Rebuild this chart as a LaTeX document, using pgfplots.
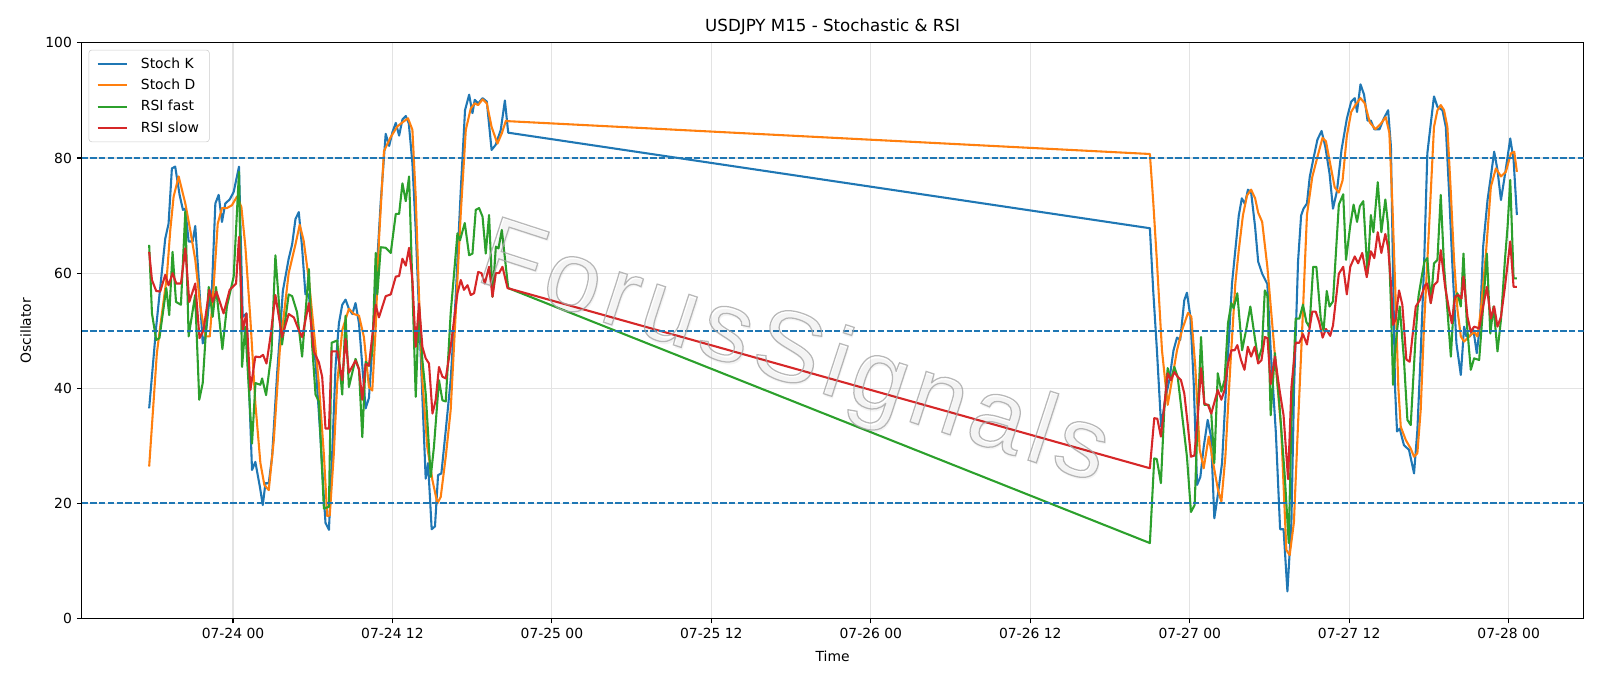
\documentclass[border=0pt]{standalone}
\usepackage{fontspec}
\setmainfont{DejaVu Sans}
\newfontfamily\wmfont[LetterSpace=6.5]{Liberation Sans}
\usepackage{pgfplots}
\pgfplotsset{compat=1.18}
\definecolor{c0}{HTML}{1F77B4}
\definecolor{c1}{HTML}{FF7F0E}
\definecolor{c2}{HTML}{2CA02C}
\definecolor{c3}{HTML}{D62728}
\newcommand{\outlinetext}[1]{\special{pdf:code 1 Tr 0.9 w}#1\special{pdf:code 0 Tr}}
\begin{document}
\begin{tikzpicture}
\begin{axis}[
  scale only axis, width=1081.4pt, height=414.4pt,
  xmin=-11.39, xmax=101.64, ymin=0, ymax=100,
  xtick={0,12,24,36,48,60,72,84,96},
  xticklabels={07-24 00,07-24 12,07-25 00,07-25 12,07-26 00,07-26 12,07-27 00,07-27 12,07-28 00},
  ytick={0,20,40,60,80,100},
  /pgf/number format/assume math mode=true,
  ticklabel style={font=\fontsize{10}{12}\selectfont},
  label style={font=\fontsize{10}{12}\selectfont},
  title style={font=\fontsize{12}{14}\selectfont, yshift=-3.5pt},
  title={USDJPY M15 - Stochastic \& RSI},
  xlabel={Time}, ylabel={Oscillator},
  xlabel shift=2pt, ylabel shift=3.5pt,
  grid=major, major grid style={color=black!11, line width=0.8pt},
  tick align=outside, tick pos=left, major tick length=3.5pt,
  every tick/.style={black, line width=0.8pt},
  axis line style={line width=0.8pt},
  legend cell align=left,
  legend style={font=\fontsize{10}{12}\selectfont, draw=black!20, rounded corners=2pt,
    at={(axis description cs:0,1)}, anchor=north west, xshift=5pt, yshift=-5pt,
    fill=white, fill opacity=0.8, text opacity=1, inner xsep=5.5pt, inner ysep=3.5pt,
    row sep=2.2pt, /tikz/every odd column/.append style={column sep=7.5pt}},
  legend image code/.code={\draw[#1] (0pt,0pt) -- (21pt,0pt);},
  every axis plot/.append style={line width=1.5pt, line join=round},
]
\addplot[c0] coordinates {
(-6.31,36.5) (-5.78,50.7) (-5.10,66) (-4.85,68.6) (-4.60,78.2) (-4.35,78.5) (-4.02,73.6) (-3.77,71) (-3.59,71.2) (-3.34,65.5) (-3.04,65.5) (-2.84,68.2) (-2.54,57.6) (-2.28,47.8) (-2.04,49.5) (-1.83,54.2) (-1.58,57.6) (-1.33,72.1) (-1.08,73.6) (-0.83,68.9) (-0.58,72.1) (-0.25,72.8) (0.05,74.1) (0.45,78.5) (0.73,52.4) (1.01,53) (1.43,25.8) (1.68,27.2) (2.02,22.9) (2.24,19.7) (2.44,23.5) (2.69,23.5) (2.94,28.1) (3.32,42.6) (3.57,50.7) (3.75,56.9)
(4.19,62.5) (4.45,65) (4.70,69.4) (4.95,70.6) (5.20,64.4) (5.45,56.3) (5.71,56.3) (5.95,50.1) (6.21,44.5) (6.58,31.5) (6.84,20.9) (6.96,16.6) (7.22,15.4) (7.46,28.4) (7.72,43.9) (7.97,51.3) (8.22,54.5) (8.47,55.4) (8.72,53.8) (8.98,52.9) (9.22,54.8) (9.48,51.3) (9.73,43.9) (9.98,36.5) (10.23,38.3) (10.48,47) (10.74,57.6) (11.12,72.5) (11.49,84.2) (11.75,82.1) (12.0,84.5) (12.25,86.1) (12.50,83.9) (12.75,86.7) (13.0,87.3) (13.23,86) (13.5,79.1) (13.75,67.5) (14.0,53) (14.25,38.5) (14.5,24.3) (14.68,27) (14.95,15.5) (15.2,16) (15.43,24.9) (15.68,25.2) (16.01,32.7) (16.38,41.4) (16.76,55.9) (17.14,74.4) (17.46,88.3) (17.77,91) (18.02,87.8) (18.19,90.1) (18.45,89.5) (18.78,90.4) (19.1,89.8) (19.46,81.4) (19.77,82.3) (20.15,84.9) (20.46,90) (20.71,84.4)
(69.0,67.8) (69.25,57) (69.53,46.6) (69.85,33.3) (70.15,38) (70.46,41.4) (70.78,46.6) (71.04,48.8) (71.28,48.4) (71.59,55.3) (71.79,56.6) (72.05,52.4) (72.3,40.8) (72.55,23.2) (72.8,24.6) (73.05,29.8) (73.35,34.5) (73.6,31.6) (73.85,17.4) (74.13,21.7) (74.43,27) (74.68,38) (74.93,47.8) (75.18,58.2) (75.43,64) (75.69,70) (75.92,73) (76.15,72) (76.38,74.5) (76.62,74) (76.92,68) (77.15,62) (77.45,59.9) (77.84,58.1) (78.09,46.7) (78.48,32.3) (78.8,15.5) (79.06,15.5) (79.35,4.7) (79.65,16.7) (79.85,40) (80.15,62) (80.38,70) (80.56,71.2) (80.82,72.1) (81.03,76.7) (81.29,79.7) (81.61,83.2) (81.92,84.7) (82.2,82) (82.52,77.3) (82.78,71.2) (83.08,74.3) (83.42,81.4) (83.82,86.8) (84.15,89.8) (84.42,90.4) (84.59,88) (84.85,92.8) (85.12,91) (85.38,86.5) (85.63,86.5) (85.89,85) (86.28,85) (86.59,86.8) (86.93,88.3) (87.14,82) (87.3,60) (87.45,40) (87.6,32.5) (87.8,33) (88.12,30.1) (88.5,29.3) (88.88,25.2) (89.13,32.7) (89.38,46.1) (89.63,61.1) (89.88,80.8) (90.14,86) (90.38,90.7) (90.64,88.9) (91.02,88.3) (91.27,85.4) (91.52,73.9) (91.77,61.1) (92.07,47.8) (92.4,42.3) (92.65,50.7) (92.82,49) (93.08,49) (93.35,50.1) (93.6,46.1) (93.83,50.7) (94.08,64.6) (94.41,72.7) (94.66,76.8) (94.91,81.1) (95.16,77.9) (95.42,72.7) (95.66,76.2) (95.92,80.2) (96.12,83.4) (96.37,79.7) (96.62,70.1)
};
\addlegendentry{Stoch K}
\addplot[c1] coordinates {
(-6.31,26.4) (-5.73,46.1) (-5.48,50.7) (-4.98,59.4) (-4.72,67.5) (-4.47,73.3) (-4.09,76.8) (-3.59,72.1) (-3.22,67.5) (-2.84,62.3) (-2.46,54.2) (-2.08,49) (-1.75,49) (-1.46,57.6) (-1.15,68.6) (-0.83,71.3) (-0.46,71.3) (-0.08,71.8) (0.30,73.3) (0.63,71.5) (0.93,64.6) (1.31,51.9) (1.68,37.4) (2.06,27) (2.36,23.2) (2.69,22.3) (3.07,31) (3.52,46.6)
(4.19,60) (4.70,65) (5.02,68.4) (5.32,65.6) (5.71,58.8) (6.08,50.1) (6.46,40.8) (6.84,28.4) (7.09,17.8) (7.28,17.9) (7.58,28.4) (7.84,40.8) (8.22,50.1) (8.72,53.8) (9.10,52.9) (9.48,52.6) (9.85,48.9) (10.23,40.2) (10.48,39.6) (10.73,50.1) (10.98,65.6) (11.36,81.2) (11.86,83.6) (12.37,85.5) (12.87,86.4) (13.17,86.9) (13.5,84.9) (13.75,73.3) (14.0,55.9) (14.25,41.4) (14.62,29.8) (15.01,24) (15.38,20) (15.63,21.1) (16.01,28.1) (16.38,36.2) (16.76,53) (17.14,70.4) (17.52,84.9) (17.89,88.6) (18.19,89.5) (18.45,89.2) (18.78,90.2) (19.1,89.5) (19.46,85.4) (19.9,82.5) (20.23,84.3) (20.54,86.5) (20.71,86.4)
(69.0,80.7) (69.25,72.5) (69.53,62) (69.91,46.6) (70.34,37.1) (70.66,41.4) (71.04,46.6) (71.42,50.1) (71.87,53.1) (72.12,52.4) (72.42,43.7) (72.75,29.3) (73.05,26.1) (73.43,31.6) (73.81,26.4) (74.13,22.3) (74.38,20.3) (74.68,28.1) (75.05,43.7) (75.43,58.2) (75.69,64) (76.0,70) (76.31,73.5) (76.62,74.5) (76.92,73) (77.15,70.5) (77.45,68.9) (77.84,61.1) (78.35,47.3) (78.88,32.9) (79.27,11.9) (79.52,11) (79.84,16.7) (80.1,31.1) (80.44,49.1) (80.82,70.1) (81.22,76.7) (81.61,80.2) (81.99,83.5) (82.25,82.9) (82.52,79.6) (82.91,74.9) (83.22,74) (83.5,76.1) (83.82,83.8) (84.15,88) (84.46,89.2) (84.85,90.4) (85.17,89.5) (85.55,86.2) (85.97,85) (86.36,85.9) (86.75,87.1) (87.02,84.4) (87.25,72) (87.5,55) (87.7,40) (87.88,33.3) (88.26,31) (88.63,29.5) (88.88,28.1) (89.13,28.7) (89.38,36.2) (89.63,50.7) (90.01,68) (90.38,85.4) (90.64,88.3) (90.89,89.2) (91.14,88.3) (91.39,85.4) (91.65,73.9) (91.89,62.3) (92.15,53.6) (92.4,49) (92.65,48.1) (93.03,49) (93.4,49.8) (93.65,49) (93.91,53.6) (94.29,63.4) (94.66,75) (95.04,78.2) (95.42,76.8) (95.79,77.6) (96.17,80.8) (96.42,81.1) (96.62,77.6)
};
\addlegendentry{Stoch D}
\addplot[c2] coordinates {
(-6.31,64.9) (-6.1,53) (-5.78,48.4) (-5.54,48.7) (-5.02,57.4) (-4.8,52.7) (-4.55,63.7) (-4.29,55) (-3.92,54.5) (-3.59,70.7) (-3.34,49) (-2.85,56.2) (-2.54,38) (-2.28,40.9) (-1.83,57.6) (-1.53,52.4) (-1.28,57.6) (-0.8,46.8) (-0.46,54.2) (0.05,59.4) (0.45,77.6) (0.68,43.7) (0.92,50.7) (1.43,30.4) (1.69,40.9) (2.06,40.6) (2.19,41.7) (2.49,38.8) (2.89,46.1) (3.19,63.1) (3.69,47.6) (4.19,56.3) (4.45,56) (4.82,53.2) (5.2,45.5) (5.71,60.7) (5.95,47.6) (6.21,38.9) (6.46,37.7) (6.84,19.1) (7.22,19.4) (7.42,47.9) (7.84,48.3) (8.22,38.9) (8.47,52.6) (8.72,40.2) (9.22,45.1) (9.48,43.3) (9.73,31.5) (9.98,44.6) (10.23,43.9) (10.48,46.4) (10.74,63.5) (10.86,56.3) (11.12,64.5) (11.49,64.4) (11.87,63.5) (12.25,70.3) (12.5,70.3) (12.75,75.6) (13.0,72.5) (13.25,76.8) (13.75,38.5) (14.0,54.2) (14.25,44.9) (14.5,39.1) (14.88,24.6) (15.12,29.8) (15.5,41.4) (15.76,37.9) (16.01,37.7) (16.38,53) (16.89,66.9) (17.08,65.7) (17.44,68.7) (17.77,63.1) (18.02,63.4) (18.27,71) (18.52,71.3) (18.78,69.8) (19.02,63.4) (19.27,70.1) (19.53,55.9) (19.78,64.6) (19.98,64.3) (20.23,67.5) (20.71,57.4)
(69.0,13.1) (69.33,27.8) (69.52,27.7) (69.83,23.5) (70.08,36.2) (70.34,43.5) (70.58,41.4) (70.84,43.7) (71.09,42) (71.79,28.1) (72.09,18.5) (72.37,19.7) (72.6,35) (72.85,48.9) (73.1,37.1) (73.43,37.1) (73.62,35.6) (73.85,27) (74.11,42.6) (74.38,39.4) (74.62,41.4) (74.88,51.3) (75.13,54.8) (75.3,53.9) (75.58,56.5) (75.94,46.6) (76.24,50.1) (76.56,54.2) (76.89,48.9) (77.15,44.9) (77.43,47) (77.65,57) (77.85,56) (78.09,35.3) (78.41,46.1) (78.75,37.1) (79.14,25.1) (79.45,13.1) (79.65,34.1) (79.97,52.1) (80.25,52.1) (80.52,54.5) (80.78,51.5) (81.01,50.6) (81.29,61.1) (81.53,61.1) (81.86,52.1) (82.07,50) (82.31,56.9) (82.52,54.2) (82.78,55.1) (83.22,71.9) (83.55,73.7) (83.76,62.3) (84.08,68.3) (84.33,71.9) (84.59,68.9) (84.8,71.6) (85.06,72.5) (85.38,59.9) (85.63,70.1) (85.82,67.1) (86.15,75.8) (86.42,67.1) (86.72,72.8) (86.93,68.3) (87.14,54.5) (87.3,40.6) (87.5,47.8) (87.8,54.2) (88.12,45) (88.38,34.5) (88.63,33.6) (89.01,49.5) (89.21,55.9) (89.46,59.4) (89.66,62) (89.88,62.6) (90.14,54.8) (90.38,61.7) (90.64,62.3) (90.89,73.6) (91.14,61.1) (91.39,53.6) (91.65,45.5) (91.89,55.3) (92.15,56.5) (92.4,54.2) (92.6,63.4) (92.85,51.3) (93.15,43.2) (93.4,45.2) (93.78,44.9) (94.08,54.2) (94.36,63.4) (94.62,49.5) (94.86,54.2) (95.16,46.4) (95.42,51.9) (95.72,62.3) (95.92,68.1) (96.12,76.2) (96.37,59.1) (96.62,59.1)
};
\addlegendentry{RSI fast}
\addplot[c3] coordinates {
(-6.31,63.7) (-6.1,58.8) (-5.78,56.9) (-5.48,56.8) (-5.1,59.7) (-4.85,57.9) (-4.55,60) (-4.27,58.2) (-3.92,58.2) (-3.59,64.3) (-3.29,55) (-2.84,58.2) (-2.52,48.7) (-2.22,50.1) (-1.78,57.1) (-1.53,55) (-1.25,56.8) (-0.71,53) (-0.25,57.1) (0.23,58.2) (0.45,66.3) (0.73,50.1) (1.01,53) (1.31,39.7) (1.68,45.5) (2.02,45.4) (2.26,45.8) (2.52,44.3) (2.82,49) (3.19,56.2) (3.69,48.9) (4.19,52.9) (4.58,52.3) (4.95,50.1) (5.2,48.9) (5.71,54.8) (6.08,46.4) (6.46,44.5) (6.71,42) (6.96,33) (7.22,33) (7.42,46.4) (7.84,46.4) (8.22,41.4) (8.47,48.6) (8.72,42.7) (9.22,44.8) (9.48,43.3) (9.73,38) (9.98,44.2) (10.23,43.9) (10.74,54.5) (10.98,52.3) (11.49,56) (11.87,56.3) (12.25,59.4) (12.5,59.5) (12.75,62.5) (13.0,61.3) (13.25,64.4) (13.5,58.8) (13.75,47.2) (14.0,54.7) (14.25,47.2) (14.5,45.2) (14.75,44.3) (15.01,35.6) (15.25,37.9) (15.5,43.7) (15.76,42) (16.01,41.7) (16.38,47.2) (16.89,56.5) (17.14,58.8) (17.38,57.1) (17.65,57.9) (17.89,56.2) (18.14,56.5) (18.45,60.2) (18.7,60) (18.95,58.2) (19.27,61.1) (19.53,55.9) (19.78,60) (20.02,60) (20.28,61.1) (20.66,57.4)
(69.0,26.1) (69.33,34.8) (69.56,34.7) (69.83,31.6) (70.08,36.8) (70.34,42.6) (70.58,41.4) (70.84,42.8) (71.09,42) (71.34,41.4) (71.59,39.1) (71.84,33.9) (72.09,28.1) (72.35,28.3) (72.6,35) (72.85,43.5) (73.1,37.3) (73.37,37.1) (73.62,35.6) (74.11,39.7) (74.38,38) (74.62,39.7) (74.88,44.3) (75.13,46.6) (75.38,46.6) (75.58,47.5) (75.86,44.9) (76.12,43.2) (76.37,47.2) (76.62,45.5) (76.89,47.2) (77.15,44.3) (77.4,44.9) (77.65,48.9) (77.85,48.7) (78.09,40.7) (78.41,45.5) (78.75,39.8) (79.06,35.3) (79.4,24.2) (79.65,40.1) (79.97,47.9) (80.25,47.9) (80.52,49.4) (80.82,47.6) (81.22,53.3) (81.48,53.3) (81.74,51.5) (82.0,48.8) (82.25,50.3) (82.57,49.1) (82.78,50.9) (83.22,59.9) (83.55,61.1) (83.82,56.3) (84.08,61.1) (84.42,62.9) (84.67,61.7) (84.98,63.5) (85.32,59.3) (85.63,63.8) (85.89,62.6) (86.15,67.1) (86.42,63.5) (86.72,66.8) (86.93,64.4) (87.15,58) (87.3,51) (87.5,52) (87.75,57) (88.0,54.5) (88.3,45) (88.55,44.6) (89.01,54.2) (89.31,55.3) (89.71,57.9) (89.88,58.2) (90.14,54.8) (90.38,57.9) (90.64,58.5) (90.89,64) (91.22,57.6) (91.52,53.6) (91.72,51.3) (91.97,55.9) (92.22,56.2) (92.45,55.6) (92.6,59.4) (92.9,52.4) (93.15,49.8) (93.4,50.7) (93.78,50.4) (94.08,54.2) (94.36,57.6) (94.66,52.1) (94.91,54.2) (95.16,50.7) (95.42,52.4) (95.72,57.6) (96.12,65.5) (96.37,57.6) (96.62,57.6)
};
\addlegendentry{RSI slow}
\addplot[c0, line width=1.25pt, dash pattern=on 4.4pt off 1.9pt, forget plot] coordinates {(-11.39,80) (101.64,80)};
\addplot[c0, line width=1.25pt, dash pattern=on 4.4pt off 1.9pt, forget plot] coordinates {(-11.39,50) (101.64,50)};
\addplot[c0, line width=1.25pt, dash pattern=on 4.4pt off 1.9pt, forget plot] coordinates {(-11.39,20) (101.64,20)};
\node[rotate=-18, text=black, opacity=0.045, font=\wmfont\fontsize{72}{72}\selectfont, xshift=1.6pt, yshift=-1.6pt] at (axis cs:42.15,45.5) {ForusSignals};
\node[rotate=-18, text=black!35, opacity=0.8, font=\wmfont\fontsize{72}{72}\selectfont] at (axis cs:42.15,45.5) {\outlinetext{ForusSignals}};
\end{axis}
\pgfresetboundingbox
\path (-58.8pt,-48.7pt) rectangle (1093.2pt,445.3pt);
\end{tikzpicture}
\end{document}
